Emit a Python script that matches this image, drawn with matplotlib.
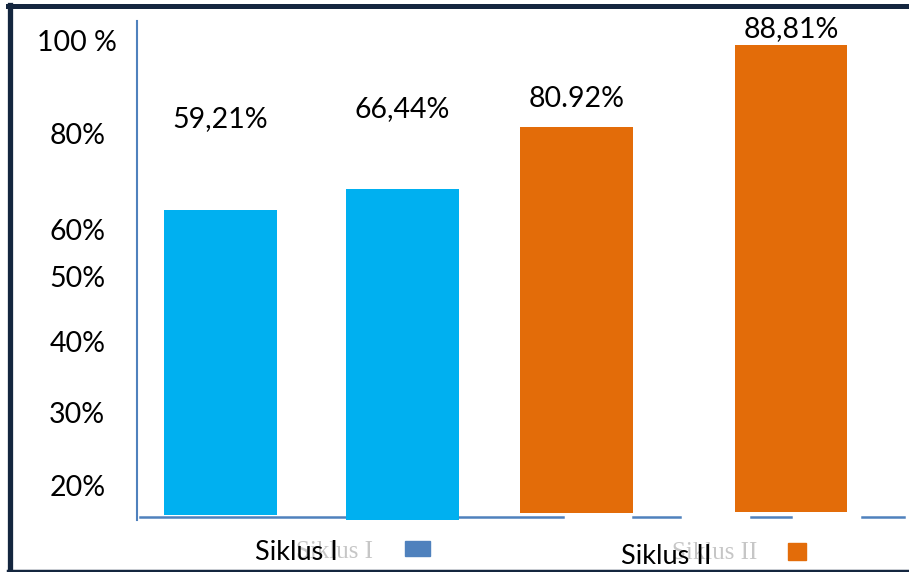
import matplotlib
matplotlib.use('Agg')
import matplotlib.pyplot as plt
from matplotlib.lines import Line2D
from matplotlib.patches import Rectangle

# values as printed on the chart
value_labels = ['59,21%', '66,44%', '80.92%', '88,81%']
series = ['Siklus I', 'Siklus I', 'Siklus II', 'Siklus II']
# bar tops/bottoms as read against the drawn axis (0 = baseline, 100 = "100 %" label)
bar_top = [64.4, 68.8, 81.8, 99.0]
bar_bottom = [0.4, -0.6, 0.8, 1.0]
# y tick labels sit unevenly on the original
tick_labels = ['100 %', '80%', '60%', '50%', '40%', '30%', '20%']
tick_pos = [100, 80.3, 60.2, 50.5, 36.7, 22.0, 6.5]

colors = {'Siklus I': '#00b0f0', 'Siklus II': '#e36c09'}
axis_col = '#4f81bd'
frame_col = '#14263f'

plt.rcParams['font.family'] = ['Lato', 'DejaVu Sans']

W, H = 909, 572
fig = plt.figure(figsize=(W / 100, H / 100), dpi=100)

# axes spans px x 137..909, y 20..530
ax = fig.add_axes([137 / W, (H - 530) / H, (W - 137) / W, 510 / H])
ax.set_xlim(0, 4.25)
ax.set_ylim(-2.73, 104.2)
for s in ax.spines.values():
    s.set_visible(False)
ax.set_xticks([])
ax.patch.set_alpha(0)

x_pos = [0.46, 1.46, 2.42, 3.60]
label_y = [83.4, 85.5, 87.6, 102.3]
heights = [t - b for t, b in zip(bar_top, bar_bottom)]
ax.bar(x_pos, heights, bottom=bar_bottom, width=0.62,
       color=[colors[s] for s in series], zorder=2)

for x, y, lab in zip(x_pos, label_y, value_labels):
    ax.text(x, y, lab, ha='center', va='center', fontsize=20.5, color='black')

ax.set_yticks(tick_pos, tick_labels)
ax.tick_params(axis='y', length=0, pad=43, labelsize=20.5)
for t in ax.get_yticklabels():
    t.set_horizontalalignment('center')

# hand-drawn axis lines
ax.plot([0, 0], [-0.6, 104], color=axis_col, lw=1.5, clip_on=False)
base_segments = [(0.017, 2.345), (2.73, 2.99), (3.38, 3.60), (3.99, 4.22)]
for a, b in base_segments:
    ax.plot([a, b], [0, 0], color=axis_col, lw=1.8, zorder=1)

# legend drawn by hand
def fx(px):
    return px / W

def fy(py):
    return 1 - py / H

fig.text(fx(296), fy(552), 'Siklus I', family='Liberation Serif', fontsize=18,
         color='#b8b8b8', va='center', alpha=0.8)
fig.text(fx(255), fy(552), 'Siklus I', fontsize=19.5, color='black', va='center')
fig.add_artist(Rectangle((fx(405), fy(556)), 25 / W, 15 / H,
                         transform=fig.transFigure, color=axis_col))

fig.text(fx(672), fy(553), 'Siklus II', family='Liberation Serif', fontsize=18,
         color='#b8b8b8', va='center', alpha=0.8)
fig.text(fx(621), fy(556), 'Siklus II', fontsize=19.5, color='black', va='center')
fig.add_artist(Rectangle((fx(788), fy(560)), 18 / W, 17 / H,
                         transform=fig.transFigure, color=colors['Siklus II']))

# dark frame: left, top, bottom
fig.add_artist(Line2D([fx(10), fx(10)], [fy(5), fy(571)], color=frame_col, lw=3.8))
fig.add_artist(Line2D([fx(8), 1], [fy(6), fy(6)], color=frame_col, lw=3.6))
fig.add_artist(Line2D([fx(8), 1], [fy(570.5), fy(570.5)], color=frame_col, lw=2.5))

fig.savefig('out.png', dpi=100)
